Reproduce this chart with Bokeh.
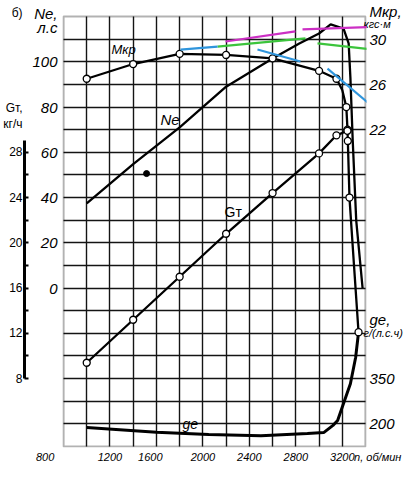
from bokeh.plotting import figure
from bokeh.models import (Range1d, LinearAxis, FixedTicker, Grid, Label, Arrow,
                          ColumnDataSource, BoxAnnotation, AllLabels)
from bokeh.embed import file_html
from bokeh.resources import INLINE

FONT = "Liberation Sans"
NB = "\u00a0"

# ---------------- data ----------------
# effective power Ne, h.p.
ne_n = [1000, 1400, 1800, 2200, 2600, 2830, 3000, 3100, 3210, 3255, 3270, 3290, 3320, 3375]
ne_v = [37.4, 54.8, 71.0, 89.0, 101.4, 108.1, 112.5, 116.5, 114.7, 108.1, 93.0, 65.2, 29.9, 0.0]

# torque Mkr, kgf*m
mkr_n = [1000, 1400, 1800, 2200, 2600, 3000, 3150, 3200, 3235, 3245, 3248, 3262, 3301, 3340]
mkr_v = [26.5, 27.8, 28.7, 28.6, 28.3, 27.2, 26.5, 25.5, 24.0, 22.0, 21.0, 16.0, 10.0, 4.1]
mkr_marked = [True, True, True, True, True, True, True, False, True, True, True, True, False, True]

# fuel consumption Gt, kg/h
gt_n = [1000, 1400, 1800, 2200, 2600, 3000, 3150, 3245]
gt_v = [9.4, 13.2, 17.0, 20.8, 24.4, 27.9, 29.5, 29.9]

# specific consumption ge, g/(h.p.*h)
ge_n = [1000, 1600, 2050, 2500, 2900, 3040, 3120, 3160, 3210, 3270, 3315, 3340]
ge_v = [188, 172, 165, 161, 168, 171, 195, 211, 267, 333, 420, 503]

# stray dot on the scan
dot_n = [1515]
dot_ne = [50.6]

# coloured straight strokes drawn over the scan (n, Ne)
magenta_n0 = [2195, 2858]
magenta_ne0 = [108.95, 114.3]
magenta_n1 = [2797, 3805]
magenta_ne1 = [113.4, 116.0]

green_n0 = [2126, 2987, 3693]
green_ne0 = [106.7, 108.1, 101.9]
green_n1 = [2883, 3615, 3805]
green_ne1 = [110.3, 104.5, 99.2]

blue_n0 = [1807, 2470, 3073]
blue_ne0 = [105.4, 105.4, 97.0]
blue_n1 = [2126, 2840, 3787]
blue_ne1 = [106.7, 100.1, 66.1]

# ticks
x_ticks = [800, 1200, 1600, 2000, 2400, 2800, 3200]
x_grid = list(range(1000, 3400, 200))
ne_ticks = [0, 20, 40, 60, 80, 100]
y_grid = list(range(-60, 120, 10))
gt_ticks = [8, 12, 16, 20, 24, 28]
gt_minor = list(range(8, 30, 2))
mkr_ticks = [22, 26, 30]
ge_ticks = [200, 350]

# chart box and scale relations of the print: Gt = 16 + Ne/5, Mkr = 8 + Ne/5, ge = 350 + 7.5*(Ne + 40)
N_LO, N_HI = 800, 3400
NE_LO, NE_HI = -70, 120


def ne_to_gt(v):
    return 16 + v / 5


def ne_to_mkr(v):
    return 8 + v / 5


def ge_to_ne(g):
    return (g - 350) / 7.5 - 40


# frame: box is 302 x 430 px; frame reaches 1 px beyond it and 16 px above it
RPX = (N_HI - N_LO) / 302
NPX = (NE_HI - NE_LO) / 430
x_lo, x_hi = N_LO - RPX, N_HI + RPX
y_lo, y_hi = NE_LO - NPX, NE_HI + 16 * NPX

p = figure(width=412, height=478, output_backend="svg", toolbar_location=None,
           x_range=Range1d(x_lo, x_hi), y_range=Range1d(y_lo, y_hi),
           min_border_left=62, min_border_right=46, min_border_top=0, min_border_bottom=31,
           background_fill_color="white", border_fill_color="white")
p.extra_y_ranges = {
    "gt": Range1d(ne_to_gt(y_lo), ne_to_gt(y_hi)),
    "mkr": Range1d(ne_to_mkr(y_lo), ne_to_mkr(y_hi)),
    "ge": Range1d(350 + 7.5 * (y_lo + 40), 350 + 7.5 * (y_hi + 40)),
}
p.outline_line_color = None
p.xgrid.visible = False
p.ygrid.visible = False

GRID_C, GRID_W = "#141414", 1.4


# grid
def add_grid(dim, ticks, cross):
    g = Grid(dimension=dim, ticker=FixedTicker(ticks=ticks),
             grid_line_color=GRID_C, grid_line_width=GRID_W)
    try:
        g.cross_bounds = cross
        p.add_layout(g)
    except Exception:
        if dim == 0:
            p.segment(x0=ticks, y0=[cross[0]] * len(ticks), x1=ticks, y1=[cross[1]] * len(ticks),
                      line_color=GRID_C, line_width=GRID_W)
        else:
            p.segment(x0=[cross[0]] * len(ticks), y0=ticks, x1=[cross[1]] * len(ticks), y1=ticks,
                      line_color=GRID_C, line_width=GRID_W)


add_grid(0, x_grid, (NE_LO, NE_HI))
add_grid(1, y_grid, (N_LO, N_HI))

p.add_layout(BoxAnnotation(left=N_LO, right=N_HI, bottom=NE_LO, top=NE_HI,
                           fill_color=None, fill_alpha=0, line_color="black", line_width=2.2))


def style_axis(ax, size, standoff, style="italic"):
    ax.axis_line_color = None
    ax.major_tick_out = 0
    ax.major_tick_in = 0
    ax.minor_tick_out = 0
    ax.minor_tick_in = 0
    ax.major_label_standoff = standoff
    ax.major_label_text_font = FONT
    ax.major_label_text_font_style = style
    ax.major_label_text_font_size = f"{size}px"
    ax.major_label_text_color = "black"
    ax.major_label_policy = AllLabels()


# x axis (with the unit written after the last tick)
xa = p.xaxis[0]
x_all = x_ticks + [N_HI]
xa.ticker = FixedTicker(ticks=x_all)
xa.major_label_overrides = {800: "800" + NB * 12, 1600: "1600" + NB * 4,
                            N_HI: NB * 8 + "n, об/мин"}
style_axis(xa, 11, 3)

# Ne axis (inner left) with its title
ne_title_pos = [round(NE_HI + 1.3, 2), round(NE_HI - 4.9, 2)]
ya = p.yaxis[0]
ya.ticker = FixedTicker(ticks=ne_ticks + ne_title_pos)
ya.major_label_overrides = {ne_title_pos[0]: "Ne,", ne_title_pos[1]: "л.с"}
style_axis(ya, 15, 5)
ya.axis_label = "."
ya.axis_label_text_alpha = 0
ya.axis_label_text_font_size = "2px"
ya.axis_label_standoff = 1

# Gt axis (outer left), its line drawn only over 8..29
gt_lo = ne_to_gt(y_lo)
gt_px = 430 / (ne_to_gt(NE_HI) - ne_to_gt(NE_LO))
gt_title_pos = [round(ne_to_gt(NE_HI + 1.77), 2), round(ne_to_gt(79.35), 2), round(ne_to_gt(72.28), 2)]
gta = LinearAxis(y_range_name="gt",
                 ticker=FixedTicker(ticks=gt_ticks + gt_title_pos, minor_ticks=gt_minor))
style_axis(gta, 12, 2, "normal")
gta.major_label_overrides = {gt_title_pos[0]: "б)", gt_title_pos[1]: "Gт,", gt_title_pos[2]: "кг/ч"}
gta.axis_line_color = "black"
gta.axis_line_width = 3
on_len = (29 - 8) * gt_px
skip = (8 - gt_lo) * gt_px
gta.axis_line_dash = f"{on_len:.0f} 3000"
gta.axis_line_dash_offset = int(round(on_len + 3000 - skip))
gta.minor_tick_in = 4
gta.minor_tick_line_width = 2
p.add_layout(gta, "left")

# right axes: scale numbers + short titles (large), long unit texts (small, pulled back in)
ge_as_mkr = [ne_to_mkr(ge_to_ne(g)) for g in ge_ticks]
r_big = [round(ne_to_mkr(NE_HI + 2.2), 2), round(ne_to_mkr(-13.88), 2)]
r_small = [round(ne_to_mkr(NE_HI - 3.4), 2), round(ne_to_mkr(-19.63), 2)]

ra = LinearAxis(y_range_name="mkr", ticker=FixedTicker(ticks=mkr_ticks + ge_as_mkr + r_big))
ov = {k: str(g) for k, g in zip(ge_as_mkr, ge_ticks)}
ov.update({r_big[0]: "Mкр,", r_big[1]: "gе,"})
ra.major_label_overrides = ov
style_axis(ra, 15, 3)
p.add_layout(ra, "right")

W1 = 43  # measured width of the inner right axis
ra2 = LinearAxis(y_range_name="mkr", ticker=FixedTicker(ticks=r_small))
ra2.major_label_overrides = {r_small[0]: "кгс·м", r_small[1]: "г/(л.с.ч)"}
style_axis(ra2, 11, 2 - W1)
p.add_layout(ra2, "right")

# curves
LW = 2.3
p.line(ne_n, ne_v, line_color="black", line_width=LW)
p.line(mkr_n, mkr_v, y_range_name="mkr", line_color="black", line_width=LW)
p.line(gt_n, gt_v, y_range_name="gt", line_color="black", line_width=LW)
p.line(ge_n, ge_v, y_range_name="ge", line_color="black", line_width=LW + 0.7)

mk_n = [n for n, m in zip(mkr_n, mkr_marked) if m]
mk_v = [v for v, m in zip(mkr_v, mkr_marked) if m]
p.scatter(mk_n, mk_v, y_range_name="mkr", marker="circle", size=7,
          fill_color="white", line_color="black", line_width=1.3)
p.scatter(gt_n, gt_v, y_range_name="gt", marker="circle", size=7,
          fill_color="white", line_color="black", line_width=1.3)
p.scatter(dot_n, dot_ne, marker="circle", size=6, fill_color="black", line_color="black")

# coloured strokes
for n0, y0, n1, y1, col in [
        (magenta_n0, magenta_ne0, magenta_n1, magenta_ne1, "#cc2fc4"),
        (green_n0, green_ne0, green_n1, green_ne1, "#3cc43c"),
        (blue_n0, blue_ne0, blue_n1, blue_ne1, "#2f95dc")]:
    src = ColumnDataSource(dict(x0=n0, y0=y0, x1=n1, y1=y1))
    p.add_layout(Arrow(end=None, x_start="x0", y_start="y0", x_end="x1", y_end="y1",
                       source=src, line_color=col, line_width=2.2))


# curve names (placed by picture position)
def px_n(X):
    return N_LO + (X - 63) * RPX


def px_ne(Y):
    return NE_HI - (Y - 16) * NPX


def txt(X, Y, s, size, style="italic"):
    p.add_layout(Label(x=px_n(X), y=px_ne(Y), text=s, text_font=FONT,
                       text_font_style=style, text_font_size=f"{size}px",
                       text_align="left", text_baseline="top", text_color="black"))


txt(111, 41, "Mкр", 13)
txt(160, 110, "Ne", 15)
txt(224, 203, "Gт", 14, "normal")
txt(182, 415, "gе", 14)

open("out.html", "w").write(file_html(p, INLINE))
